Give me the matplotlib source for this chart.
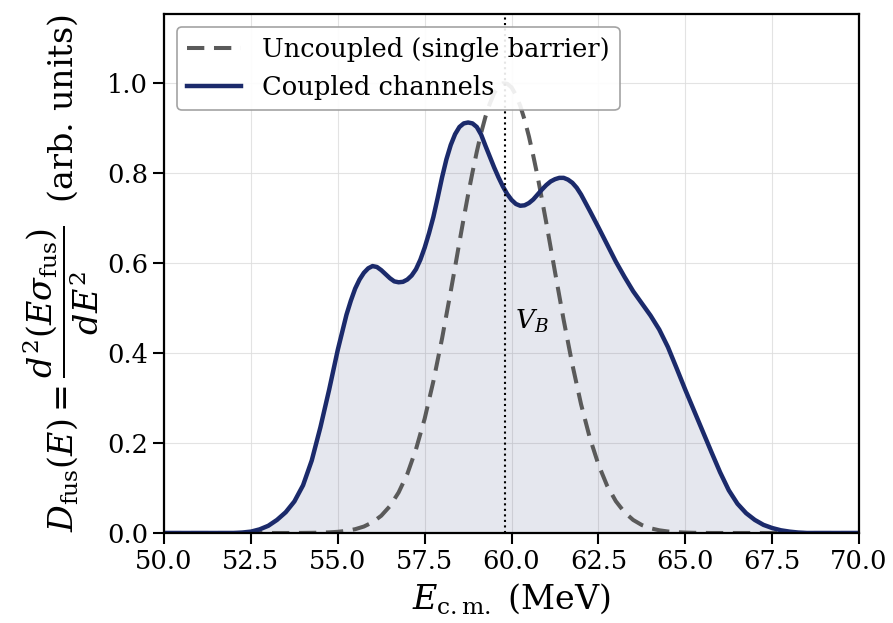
import numpy as np
import matplotlib
matplotlib.use("Agg")
import matplotlib.pyplot as plt

plt.rcParams['font.family'] = ['DejaVu Serif']
plt.rcParams['mathtext.fontset'] = 'dejavuserif'

# single barrier (uncoupled) distribution
# (finer energy steps near the peak)
uncoupled_e = np.r_[np.arange(50.0, 58.26, 0.25),
                    np.arange(58.375, 61.01, 0.125),
                    np.arange(61.25, 70.01, 0.25)]
uncoupled = [0]*16 + [
    0.0002, 0.0004, 0.0007, 0.0014, 0.0026, 0.0047, 0.0084, 0.0143,   # 54.0 .. 55.75
    0.0238, 0.0383, 0.0597, 0.090, 0.131, 0.186, 0.254, 0.337,         # 56.0 .. 57.75
    0.432, 0.537,                                                      # 58.0, 58.25
    0.591, 0.646, 0.700, 0.752, 0.801, 0.847, 0.889, 0.925,            # 58.375 .. 59.25
    0.954, 0.977, 0.992, 0.999, 0.998, 0.990, 0.973, 0.949,            # 59.375 .. 60.25
    0.918, 0.881, 0.838, 0.792, 0.741, 0.689,                          # 60.375 .. 61.0
    0.580, 0.473, 0.374, 0.286, 0.212, 0.152, 0.105, 0.0707,           # 61.25 .. 63.0
    0.0460, 0.0289, 0.0176, 0.0104, 0.0060, 0.0033, 0.0018, 0.0009,   # 63.25 .. 65.0
    0.0004, 0.0002,                                                    # 65.25, 65.5
] + [0]*18

# coupled channels distribution
coupled_e = np.r_[np.arange(50.0, 55.26, 0.25),
                  np.arange(55.375, 62.01, 0.125),
                  np.arange(62.25, 70.01, 0.25)]
coupled = [0]*9 + [
    0.001, 0.003, 0.008, 0.016, 0.029, 0.046, 0.070,                   # 52.25 .. 53.75
    0.106, 0.161, 0.235, 0.318, 0.407, 0.485,                          # 54.0 .. 55.25
    0.516, 0.543, 0.563, 0.578, 0.588, 0.593, 0.591, 0.584,            # 55.375 .. 56.25
    0.575, 0.566, 0.559, 0.557, 0.558, 0.563, 0.572, 0.586,            # 56.375 .. 57.25
    0.607, 0.634, 0.666, 0.702, 0.745, 0.790, 0.830, 0.862,            # 57.375 .. 58.25
    0.886, 0.902, 0.910, 0.912, 0.910, 0.902, 0.885, 0.860,            # 58.375 .. 59.25
    0.836, 0.812, 0.790, 0.770, 0.753, 0.740, 0.731, 0.727,            # 59.375 .. 60.25
    0.728, 0.733, 0.741, 0.752, 0.763, 0.773, 0.781, 0.786,            # 60.375 .. 61.25
    0.789, 0.789, 0.785, 0.778, 0.767, 0.752,                          # 61.375 .. 62.0
    0.716, 0.679, 0.641, 0.603, 0.569, 0.537, 0.510, 0.483,            # 62.25 .. 64.0
    0.452, 0.413, 0.366, 0.318, 0.272, 0.226, 0.180, 0.135,            # 64.25 .. 66.0
    0.095, 0.065, 0.044, 0.029, 0.018, 0.011, 0.006, 0.003,            # 66.25 .. 68.0
    0.001,                                                             # 68.25
] + [0]*7

barrier = 59.8

navy = '#1b2a6b'

fig = plt.figure(figsize=(8.93, 6.23), dpi=100)
ax = fig.add_axes([0.1837, 0.1445, 0.7783, 0.833])

ax.fill_between(coupled_e, 0, coupled, color=navy, alpha=0.11, linewidth=0)
ax.plot(uncoupled_e, uncoupled, '--', color='#5a5a5a', lw=2.9, dashes=(4.3, 2.4),
        label='Uncoupled (single barrier)')
ax.plot(coupled_e, coupled, '-', color=navy, lw=3.2, label='Coupled channels')
ax.axvline(barrier, color='black', ls=':', lw=1.5)
ax.text(barrier + 0.3, 0.47, r'$V_B$', fontsize=19, va='center', ha='left')

ax.set_xlim(50, 70)
ax.set_ylim(0, 1.153)
ax.set_xticks(np.arange(50, 70.1, 2.5))
ax.set_yticks(np.arange(0, 1.01, 0.2))
ax.xaxis.set_major_formatter(matplotlib.ticker.FormatStrFormatter('%.1f'))
ax.yaxis.set_major_formatter(matplotlib.ticker.FormatStrFormatter('%.1f'))
ax.grid(True, color='#dddddd', lw=0.8, alpha=0.8)
ax.set_axisbelow(True)

ax.tick_params(labelsize=18.5, length=8, width=1.5, direction='out')
for s in ax.spines.values():
    s.set_linewidth(1.6)

ax.set_xlabel(r'$E_{\rm c.m.}$ (MeV)', fontsize=24, labelpad=5)
ax.set_ylabel(r'$D_{\rm fus}(E) = \dfrac{d^2(E\sigma_{\rm fus})}{dE^2}$  (arb. units)',
              fontsize=24, labelpad=4)

leg = ax.legend(loc='upper left', fontsize=18.5, frameon=True, fancybox=True,
                edgecolor='#999999', framealpha=0.9, handlelength=2.1)
leg.get_frame().set_linewidth(1.2)

fig.savefig('out.png', dpi=100)
